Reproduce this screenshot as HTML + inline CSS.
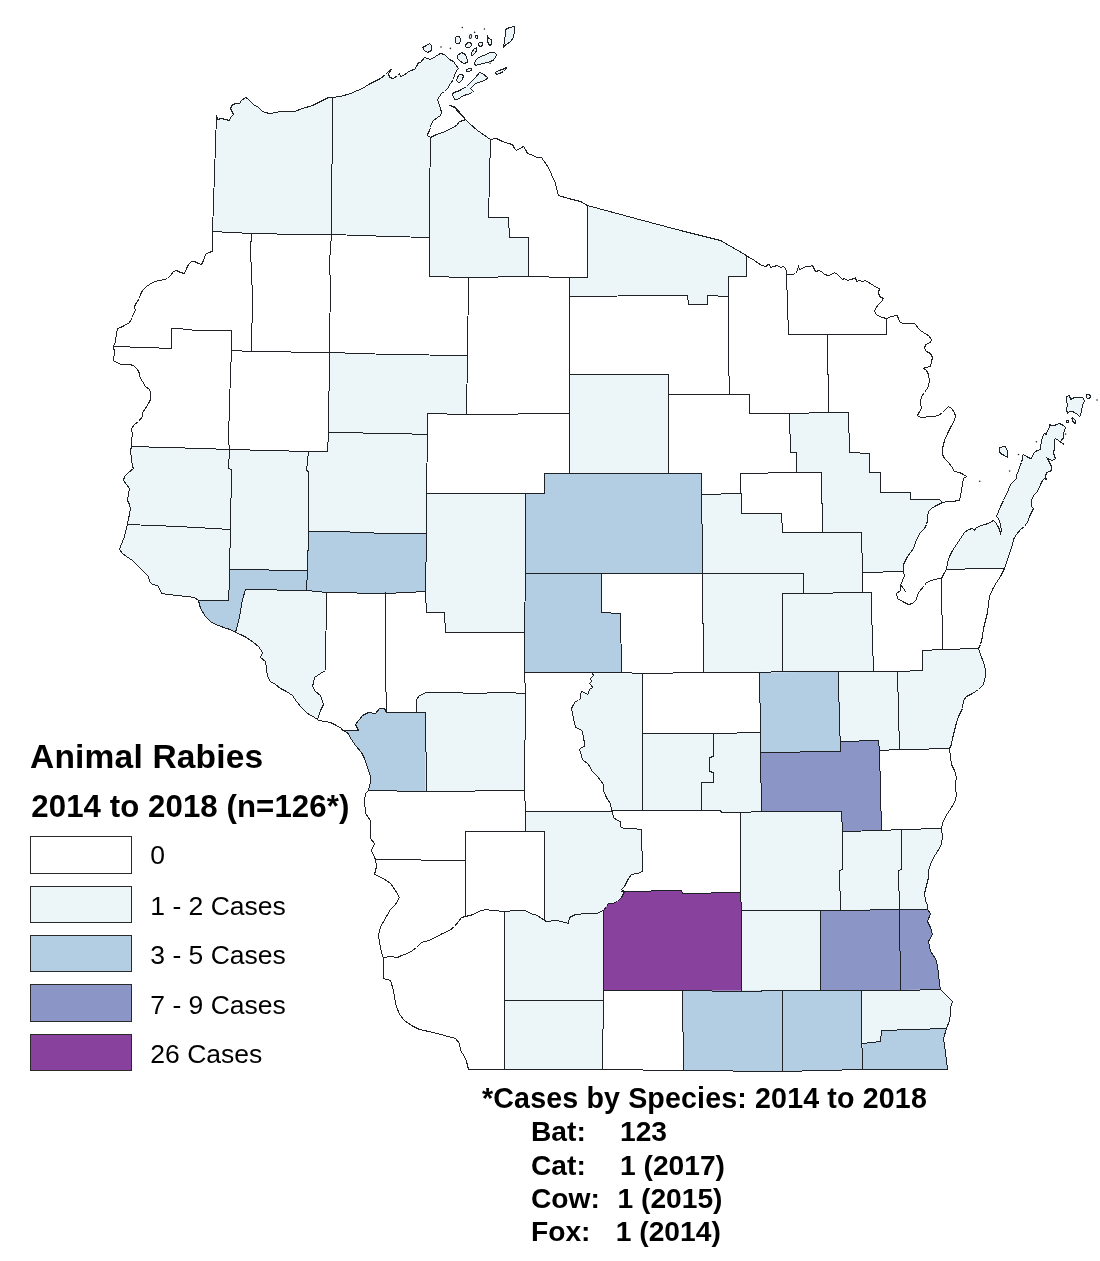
<!DOCTYPE html><html><head><meta charset="utf-8"><title>Animal Rabies 2014 to 2018</title><style>html,body{margin:0;padding:0;background:#fff;width:1100px;height:1261px;overflow:hidden}svg{position:absolute;left:0;top:0}text{font-family:"Liberation Sans",Arial,sans-serif;fill:#000}</style></head><body>
<svg width="1100" height="1261" viewBox="0 0 1100 1261">
<g stroke-linejoin="miter" stroke-linecap="square">
<g stroke="none">
<polygon fill="#ecf6f9" points="216.5,115.5 217.5,119.5 221.5,118.5 225.5,119.5 229.5,120.5 230.5,117.5 233.5,114.5 231.5,110.5 230.5,108.5 232.5,104.5 236.5,103.5 239.5,103.5 241.5,100.5 245.5,97.5 247.5,98.5 250.5,101.5 253.5,104.5 258.5,107.5 261.5,110.5 264.5,112.5 270.5,113.5 275.5,112.5 280.5,111.5 294.5,111.5 302.5,108.5 312.5,105.5 322.5,100.5 328.5,97.5 332.5,97.5 331.5,234.5 301.5,234.5 251.5,233.5 212.5,231.5"/>
<polygon fill="#ecf6f9" points="332.5,97.5 340.5,96.5 350.5,93.5 357.5,90.5 362.5,88.5 368.5,84.5 374.5,81.5 380.5,78.5 385.5,74.5 389.5,70.5 391.5,69.5 388.5,73.5 389.5,77.5 393.5,78.5 397.5,75.5 399.5,73.5 400.5,76.5 403.5,75.5 407.5,72.5 410.5,70.5 414.5,69.5 416.5,66.5 418.5,62.5 420.5,62.5 424.5,57.5 430.5,59.5 435.5,56.5 440.5,53.5 444.5,54.5 447.5,57.5 449.5,59.5 453.5,61.5 455.5,64.5 458.5,68.5 456.5,70.5 454.5,75.5 453.5,79.5 450.5,83.5 447.5,88.5 444.5,91.5 441.5,93.5 439.5,96.5 437.5,99.5 438.5,102.5 439.5,105.5 440.5,108.5 441.5,112.5 440.5,115.5 437.5,117.5 433.5,120.5 431.5,123.5 430.5,127.5 429.5,130.5 427.5,134.5 427.5,135.5 430.5,137.5 429.5,237.5 390.5,236.5 331.5,234.5"/>
<polygon fill="#ecf6f9" points="430.5,137.5 436.5,134.5 442.5,132.5 449.5,129.5 456.5,125.5 459.5,121.5 463.5,120.5 465.5,119.5 454.5,106.5 449.5,105.5 454.5,107.5 461.5,115.5 469.5,123.5 477.5,130.5 490.5,139.5 488.5,217.5 508.5,217.5 509.5,237.5 528.5,237.5 528.5,276.5 468.5,277.5 429.5,276.5 429.5,237.5"/>
<polygon fill="#ecf6f9" points="587.5,205.5 635.5,218.5 680.5,230.5 720.5,240.5 746.5,255.5 746.5,276.5 728.5,276.5 728.5,296.5 707.5,295.5 707.5,304.5 688.5,304.5 687.5,295.5 666.5,295.5 569.5,296.5 569.5,277.5 587.5,277.5"/>
<polygon fill="#ecf6f9" points="569.5,374.5 668.5,374.5 668.5,394.5 668.5,473.5 569.5,473.5"/>
<polygon fill="#ecf6f9" points="329.5,352.5 390.5,354.5 467.5,355.5 466.5,414.5 427.5,413.5 427.5,434.5 396.5,433.5 328.5,432.5"/>
<polygon fill="#ecf6f9" points="789.5,413.5 848.5,412.5 849.5,452.5 869.5,453.5 869.5,472.5 880.5,472.5 880.5,492.5 910.5,492.5 910.5,499.5 939.5,499.5 942.5,502.5 938.5,504.5 934.5,506.5 931.5,508.5 928.5,511.5 927.5,516.5 927.5,520.5 926.5,524.5 924.5,528.5 920.5,532.5 917.5,537.5 915.5,542.5 913.5,548.5 910.5,552.5 907.5,556.5 905.5,560.5 903.5,564.5 903.5,571.5 862.5,572.5 861.5,532.5 822.5,532.5 821.5,472.5 796.5,472.5 796.5,452.5 790.5,452.5"/>
<polygon fill="#ecf6f9" points="701.5,494.5 740.5,493.5 741.5,513.5 781.5,513.5 782.5,532.5 861.5,532.5 862.5,572.5 862.5,592.5 803.5,593.5 803.5,573.5 702.5,573.5"/>
<polygon fill="#ecf6f9" points="702.5,573.5 803.5,573.5 803.5,593.5 782.5,593.5 782.5,671.5 703.5,672.5"/>
<polygon fill="#ecf6f9" points="782.5,593.5 862.5,592.5 871.5,592.5 871.5,609.5 873.5,671.5 782.5,671.5"/>
<polygon fill="#ecf6f9" points="838.5,671.5 897.5,671.5 899.5,749.5 879.5,750.5 878.5,740.5 840.5,741.5 839.5,730.5"/>
<polygon fill="#ecf6f9" points="897.5,671.5 922.5,670.5 922.5,650.5 941.5,649.5 978.5,648.5 980.5,654.5 983.5,662.5 985.5,669.5 985.5,676.5 983.5,684.5 978.5,689.5 972.5,693.5 966.5,696.5 963.5,700.5 962.5,708.5 960.5,712.5 958.5,716.5 956.5,722.5 954.5,730.5 952.5,738.5 951.5,744.5 949.5,748.5 908.5,749.5 899.5,749.5"/>
<polygon fill="#ecf6f9" points="946.5,569.5 947.5,562.5 949.5,556.5 952.5,550.5 956.5,544.5 960.5,538.5 964.5,532.5 968.5,529.5 972.5,528.5 974.5,530.5 975.5,528.5 978.5,526.5 981.5,525.5 984.5,524.5 988.5,523.5 991.5,521.5 993.5,520.5 995.5,522.5 997.5,525.5 999.5,529.5 1000.5,533.5 1001.5,530.5 1000.5,524.5 998.5,518.5 996.5,516.5 998.5,511.5 1000.5,506.5 1003.5,500.5 1005.5,495.5 1007.5,492.5 1009.5,486.5 1011.5,483.5 1013.5,481.5 1016.5,478.5 1016.5,474.5 1018.5,471.5 1019.5,467.5 1020.5,464.5 1021.5,462.5 1022.5,458.5 1022.5,455.5 1023.5,454.5 1026.5,456.5 1028.5,457.5 1030.5,458.5 1032.5,457.5 1033.5,453.5 1035.5,451.5 1037.5,450.5 1040.5,449.5 1040.5,446.5 1041.5,441.5 1042.5,436.5 1044.5,433.5 1046.5,434.5 1047.5,430.5 1049.5,427.5 1049.5,424.5 1051.5,425.5 1054.5,425.5 1056.5,424.5 1059.5,423.5 1061.5,424.5 1063.5,425.5 1065.5,427.5 1064.5,430.5 1063.5,433.5 1063.5,436.5 1063.5,438.5 1061.5,439.5 1060.5,442.5 1063.5,443.5 1063.5,444.5 1061.5,442.5 1058.5,440.5 1055.5,438.5 1054.5,439.5 1054.5,443.5 1054.5,448.5 1053.5,452.5 1054.5,456.5 1055.5,458.5 1052.5,460.5 1049.5,459.5 1047.5,458.5 1049.5,462.5 1051.5,466.5 1051.5,470.5 1049.5,471.5 1046.5,472.5 1045.5,476.5 1046.5,479.5 1044.5,478.5 1042.5,480.5 1040.5,484.5 1038.5,489.5 1036.5,492.5 1033.5,495.5 1031.5,500.5 1031.5,506.5 1033.5,508.5 1031.5,512.5 1029.5,516.5 1028.5,520.5 1024.5,526.5 1020.5,529.5 1016.5,534.5 1013.5,539.5 1012.5,544.5 1010.5,550.5 1008.5,556.5 1006.5,562.5 1004.5,568.5 984.5,568.5"/>
<polygon fill="#ecf6f9" points="131.5,446.5 202.5,448.5 229.5,449.5 228.5,468.5 231.5,469.5 230.5,528.5 178.5,526.5 127.5,524.5 128.5,518.5 129.5,514.5 130.5,508.5 129.5,504.5 127.5,500.5 128.5,494.5 129.5,488.5 126.5,484.5 123.5,480.5 124.5,476.5 128.5,472.5 133.5,468.5 132.5,466.5 131.5,458.5 130.5,450.5 131.5,446.5"/>
<polygon fill="#ecf6f9" points="127.5,524.5 178.5,526.5 230.5,529.5 229.5,569.5 229.5,580.5 228.5,600.5 198.5,600.5 194.5,597.5 186.5,596.5 176.5,595.5 168.5,594.5 161.5,593.5 160.5,590.5 157.5,585.5 152.5,584.5 149.5,581.5 148.5,576.5 144.5,572.5 138.5,566.5 132.5,560.5 126.5,556.5 122.5,553.5 119.5,549.5 120.5,546.5 124.5,536.5 127.5,524.5"/>
<polygon fill="#ecf6f9" points="229.5,449.5 308.5,451.5 306.5,470.5 308.5,471.5 308.5,531.5 307.5,570.5 229.5,569.5 230.5,528.5 231.5,469.5 228.5,468.5"/>
<polygon fill="#b3cde3" points="229.5,569.5 307.5,570.5 306.5,590.5 245.5,589.5 242.5,599.5 239.5,617.5 235.5,632.5 230.5,629.5 226.5,628.5 218.5,625.5 211.5,622.5 205.5,616.5 200.5,608.5 198.5,600.5 228.5,600.5 229.5,580.5"/>
<polygon fill="#ecf6f9" points="327.5,451.5 328.5,432.5 396.5,433.5 427.5,434.5 427.5,433.5 426.5,493.5 426.5,533.5 385.5,533.5 337.5,531.5 308.5,531.5 308.5,471.5 306.5,470.5 308.5,451.5"/>
<polygon fill="#b3cde3" points="308.5,531.5 337.5,531.5 385.5,533.5 426.5,533.5 425.5,592.5 425.5,591.5 386.5,593.5 326.5,592.5 306.5,590.5 307.5,570.5"/>
<polygon fill="#ecf6f9" points="245.5,589.5 306.5,590.5 326.5,592.5 325.5,670.5 320.5,673.5 314.5,677.5 313.5,682.5 312.5,686.5 315.5,691.5 320.5,695.5 323.5,704.5 320.5,710.5 318.5,716.5 317.5,719.5 314.5,717.5 307.5,713.5 301.5,707.5 296.5,701.5 292.5,695.5 286.5,691.5 280.5,688.5 275.5,684.5 270.5,681.5 267.5,676.5 266.5,668.5 265.5,661.5 260.5,657.5 262.5,652.5 258.5,646.5 253.5,642.5 246.5,637.5 240.5,634.5 235.5,632.5 239.5,617.5 242.5,599.5"/>
<polygon fill="#ecf6f9" points="426.5,493.5 446.5,493.5 525.5,493.5 525.5,573.5 524.5,632.5 445.5,632.5 444.5,612.5 426.5,612.5 425.5,592.5 426.5,533.5"/>
<polygon fill="#b3cde3" points="544.5,473.5 701.5,473.5 702.5,573.5 525.5,573.5 525.5,493.5 544.5,493.5"/>
<polygon fill="#b3cde3" points="525.5,573.5 601.5,573.5 601.5,612.5 620.5,613.5 621.5,672.5 524.5,672.5 524.5,632.5"/>
<polygon fill="#ecf6f9" points="416.5,699.5 419.5,695.5 426.5,692.5 458.5,692.5 467.5,693.5 506.5,692.5 525.5,693.5 524.5,790.5 425.5,791.5 425.5,712.5 416.5,712.5"/>
<polygon fill="#b3cde3" points="342.5,730.5 358.5,730.5 355.5,724.5 362.5,715.5 368.5,712.5 375.5,713.5 379.5,708.5 384.5,708.5 386.5,712.5 416.5,712.5 425.5,712.5 425.5,791.5 368.5,790.5 370.5,782.5 370.5,776.5 367.5,767.5 364.5,758.5 361.5,752.5 355.5,745.5 351.5,739.5 347.5,732.5"/>
<polygon fill="#ecf6f9" points="592.5,673.5 593.5,675.5 590.5,678.5 591.5,681.5 589.5,683.5 591.5,685.5 592.5,687.5 589.5,689.5 588.5,693.5 587.5,694.5 584.5,692.5 581.5,691.5 580.5,694.5 580.5,698.5 578.5,700.5 575.5,701.5 573.5,704.5 571.5,708.5 572.5,712.5 573.5,718.5 575.5,727.5 580.5,729.5 582.5,731.5 583.5,737.5 584.5,743.5 584.5,746.5 581.5,747.5 579.5,749.5 580.5,752.5 582.5,759.5 588.5,764.5 592.5,771.5 597.5,776.5 600.5,780.5 603.5,784.5 603.5,790.5 605.5,795.5 607.5,799.5 610.5,803.5 611.5,810.5 642.5,810.5 642.5,733.5 642.5,673.5"/>
<polygon fill="#ecf6f9" points="642.5,733.5 713.5,733.5 713.5,756.5 709.5,757.5 709.5,771.5 713.5,772.5 713.5,782.5 701.5,782.5 701.5,810.5 642.5,810.5"/>
<polygon fill="#ecf6f9" points="713.5,733.5 760.5,732.5 761.5,811.5 740.5,812.5 721.5,812.5 720.5,810.5 701.5,810.5 701.5,782.5 713.5,782.5 713.5,772.5 709.5,771.5 709.5,757.5 713.5,756.5"/>
<polygon fill="#b3cde3" points="759.5,672.5 838.5,671.5 839.5,730.5 840.5,741.5 840.5,751.5 760.5,752.5"/>
<polygon fill="#8c96c6" points="760.5,752.5 840.5,751.5 840.5,741.5 878.5,740.5 879.5,750.5 881.5,830.5 842.5,831.5 841.5,811.5 761.5,811.5"/>
<polygon fill="#ecf6f9" points="525.5,811.5 612.5,811.5 613.5,817.5 617.5,820.5 620.5,821.5 620.5,826.5 623.5,828.5 631.5,828.5 641.5,829.5 642.5,871.5 637.5,873.5 631.5,874.5 628.5,878.5 624.5,886.5 621.5,889.5 624.5,891.5 621.5,897.5 617.5,901.5 612.5,903.5 608.5,903.5 606.5,906.5 603.5,910.5 596.5,913.5 586.5,913.5 575.5,914.5 569.5,917.5 568.5,923.5 565.5,922.5 556.5,920.5 546.5,921.5 544.5,920.5 544.5,831.5 525.5,831.5"/>
<polygon fill="#ecf6f9" points="504.5,911.5 516.5,910.5 525.5,910.5 530.5,913.5 537.5,915.5 544.5,920.5 546.5,921.5 556.5,920.5 565.5,922.5 568.5,923.5 569.5,917.5 575.5,914.5 586.5,913.5 596.5,913.5 603.5,910.5 603.5,990.5 603.5,1000.5 504.5,1000.5"/>
<polygon fill="#ecf6f9" points="504.5,1000.5 603.5,1000.5 602.5,1069.5 504.5,1069.5"/>
<polygon fill="#88419d" points="603.5,910.5 606.5,906.5 608.5,903.5 612.5,903.5 617.5,901.5 621.5,897.5 624.5,891.5 621.5,891.5 681.5,890.5 682.5,893.5 740.5,892.5 741.5,910.5 741.5,991.5 682.5,990.5 603.5,990.5"/>
<polygon fill="#ecf6f9" points="740.5,812.5 761.5,811.5 841.5,811.5 842.5,831.5 842.5,869.5 839.5,870.5 840.5,910.5 741.5,910.5 740.5,892.5"/>
<polygon fill="#ecf6f9" points="741.5,910.5 820.5,910.5 820.5,990.5 741.5,991.5"/>
<polygon fill="#ecf6f9" points="842.5,831.5 881.5,830.5 901.5,829.5 901.5,869.5 898.5,870.5 899.5,909.5 840.5,910.5 839.5,870.5 842.5,869.5"/>
<polygon fill="#ecf6f9" points="901.5,829.5 941.5,828.5 942.5,836.5 941.5,844.5 937.5,851.5 933.5,857.5 930.5,864.5 928.5,870.5 928.5,877.5 926.5,885.5 924.5,893.5 925.5,900.5 927.5,905.5 927.5,909.5 899.5,909.5 898.5,870.5 901.5,869.5"/>
<polygon fill="#8c96c6" points="820.5,910.5 899.5,909.5 900.5,990.5 820.5,990.5"/>
<polygon fill="#8c96c6" points="927.5,909.5 930.5,913.5 927.5,921.5 930.5,927.5 932.5,934.5 928.5,941.5 930.5,951.5 935.5,958.5 937.5,965.5 938.5,974.5 939.5,983.5 940.5,989.5 900.5,990.5 899.5,909.5"/>
<polygon fill="#ecf6f9" points="861.5,990.5 940.5,989.5 945.5,994.5 952.5,1001.5 950.5,1007.5 950.5,1014.5 949.5,1020.5 946.5,1028.5 881.5,1030.5 880.5,1041.5 862.5,1043.5 861.5,1025.5"/>
<polygon fill="#b3cde3" points="862.5,1043.5 880.5,1041.5 881.5,1030.5 946.5,1028.5 943.5,1038.5 945.5,1052.5 947.5,1069.5 862.5,1069.5"/>
<polygon fill="#b3cde3" points="782.5,990.5 861.5,990.5 861.5,1025.5 862.5,1069.5 782.5,1071.5"/>
<polygon fill="#b3cde3" points="682.5,990.5 782.5,990.5 782.5,1071.5 683.5,1070.5"/>
</g>
<g fill="#ecf6f9" stroke="#1e2226" stroke-width="1.0" shape-rendering="crispEdges">
<polygon points="452.5,94.5 454.5,99.5 457.5,99.5 463.5,95.5 467.5,94.5 472.5,92.5 473.5,91.5 470.5,88.5 475.5,83.5 481.5,81.5 486.5,79.5 487.5,77.5 482.5,73.5 479.5,72.5 475.5,77.5 471.5,81.5 466.5,86.5 461.5,89.5 457.5,91.5 453.5,92.5"/>
<polygon points="474.5,63.5 475.5,65.5 478.5,64.5 483.5,63.5 490.5,61.5 494.5,59.5 496.5,54.5 494.5,52.5 490.5,52.5 483.5,55.5 478.5,57.5 475.5,60.5"/>
<polygon points="457.5,55.5 461.5,52.5 465.5,54.5 467.5,60.5 467.5,62.5 463.5,63.5 459.5,60.5 457.5,58.5"/>
<polygon points="505.5,29.5 509.5,27.5 514.5,26.5 514.5,30.5 513.5,37.5 510.5,41.5 506.5,44.5 504.5,45.5 503.5,47.5 504.5,40.5 505.5,34.5"/>
<polygon points="495.5,72.5 498.5,70.5 502.5,69.5 506.5,67.5 506.5,68.5 503.5,71.5 499.5,73.5 496.5,74.5"/>
<polygon points="422.5,47.5 426.5,45.5 429.5,43.5 431.5,45.5 431.5,50.5 427.5,52.5 424.5,50.5"/>
<polygon points="487.5,35.5 488.5,38.5 491.5,39.5 491.5,43.5 490.5,45.5 488.5,44.5 487.5,40.5"/>
<polygon points="1066.5,396.5 1069.5,395.5 1070.5,399.5 1074.5,397.5 1078.5,397.5 1082.5,397.5 1084.5,400.5 1082.5,405.5 1081.5,410.5 1080.5,415.5 1079.5,416.5 1077.5,414.5 1074.5,412.5 1072.5,411.5 1069.5,411.5 1067.5,413.5 1066.5,409.5 1067.5,404.5 1066.5,400.5"/>
<polygon points="999.5,447.5 1005.5,446.5 1007.5,451.5 1007.5,457.5 1004.5,455.5 1000.5,453.5 999.5,451.5"/>
<ellipse cx="460" cy="78.2" rx="2.6" ry="4.4" transform="rotate(25 460 78.2)"/>
<ellipse cx="469" cy="70" rx="3" ry="1.5" transform="rotate(-25 469 70)"/>
<ellipse cx="474.1" cy="51.6" rx="1.6" ry="4.3" transform="rotate(35 474.1 51.6)"/>
<ellipse cx="468.5" cy="45.1" rx="3" ry="2.3" transform="rotate(-30 468.5 45.1)"/>
<ellipse cx="480.6" cy="44.2" rx="2" ry="2" transform="rotate(0 480.6 44.2)"/>
<ellipse cx="457.8" cy="40.1" rx="2.5" ry="3.8" transform="rotate(0 457.8 40.1)"/>
<ellipse cx="470.5" cy="36.5" rx="1.1" ry="2" transform="rotate(15 470.5 36.5)"/>
<ellipse cx="476.7" cy="37" rx="1.4" ry="1.4" transform="rotate(0 476.7 37)"/>
<ellipse cx="1088.2" cy="396.3" rx="2" ry="2.2" transform="rotate(0 1088.2 396.3)"/>
<ellipse cx="1067.5" cy="421.4" rx="1" ry="1" transform="rotate(0 1067.5 421.4)"/>
<ellipse cx="1073.8" cy="420.5" rx="1.2" ry="3" transform="rotate(-30 1073.8 420.5)"/>
</g>
<g fill="#1e2226">
<circle cx="441" cy="47" r="0.8"/>
<circle cx="450.4" cy="48.4" r="0.8"/>
<circle cx="462.3" cy="27.5" r="0.8"/>
<circle cx="484.4" cy="29" r="0.8"/>
<circle cx="474.6" cy="32.4" r="0.8"/>
<circle cx="490.1" cy="63.3" r="0.8"/>
<circle cx="1097" cy="400" r="0.8"/>
<circle cx="1009.6" cy="471" r="0.8"/>
<circle cx="1036.4" cy="441.7" r="0.8"/>
<circle cx="1018.5" cy="454.5" r="0.8"/>
<circle cx="979.7" cy="481.2" r="0.8"/>
<circle cx="1065.6" cy="434.1" r="0.8"/>
</g>
<g fill="none" stroke="#1e2226" stroke-width="1.0" shape-rendering="crispEdges">
<polygon points="216.5,115.5 217.5,119.5 221.5,118.5 225.5,119.5 229.5,120.5 230.5,117.5 233.5,114.5 231.5,110.5 230.5,108.5 232.5,104.5 236.5,103.5 239.5,103.5 241.5,100.5 245.5,97.5 247.5,98.5 250.5,101.5 253.5,104.5 258.5,107.5 261.5,110.5 264.5,112.5 270.5,113.5 275.5,112.5 280.5,111.5 294.5,111.5 302.5,108.5 312.5,105.5 322.5,100.5 328.5,97.5 332.5,97.5 340.5,96.5 350.5,93.5 357.5,90.5 362.5,88.5 368.5,84.5 374.5,81.5 380.5,78.5 385.5,74.5 389.5,70.5 391.5,69.5 388.5,73.5 389.5,77.5 393.5,78.5 397.5,75.5 399.5,73.5 400.5,76.5 403.5,75.5 407.5,72.5 410.5,70.5 414.5,69.5 416.5,66.5 418.5,62.5 420.5,62.5 424.5,57.5 430.5,59.5 435.5,56.5 440.5,53.5 444.5,54.5 447.5,57.5 449.5,59.5 453.5,61.5 455.5,64.5 458.5,68.5 456.5,70.5 454.5,75.5 453.5,79.5 450.5,83.5 447.5,88.5 444.5,91.5 441.5,93.5 439.5,96.5 437.5,99.5 438.5,102.5 439.5,105.5 440.5,108.5 441.5,112.5 440.5,115.5 437.5,117.5 433.5,120.5 431.5,123.5 430.5,127.5 429.5,130.5 427.5,134.5 427.5,135.5 430.5,137.5 436.5,134.5 442.5,132.5 449.5,129.5 456.5,125.5 459.5,121.5 463.5,120.5 465.5,119.5 461.5,114.5 454.5,106.5 449.5,105.5 454.5,107.5 461.5,115.5 469.5,123.5 477.5,130.5 490.5,139.5 496.5,138.5 502.5,141.5 508.5,143.5 512.5,144.5 514.5,148.5 516.5,150.5 523.5,146.5 525.5,149.5 527.5,153.5 533.5,155.5 536.5,157.5 541.5,157.5 543.5,160.5 548.5,167.5 551.5,174.5 555.5,183.5 557.5,192.5 558.5,195.5 568.5,198.5 580.5,201.5 587.5,205.5 635.5,218.5 680.5,230.5 720.5,240.5 746.5,255.5 747.5,256.5 754.5,260.5 761.5,265.5 766.5,266.5 767.5,264.5 769.5,264.5 770.5,267.5 773.5,266.5 777.5,265.5 780.5,267.5 783.5,266.5 785.5,268.5 786.5,271.5 786.5,274.5 788.5,274.5 792.5,274.5 795.5,273.5 797.5,270.5 798.5,266.5 799.5,269.5 802.5,268.5 805.5,266.5 809.5,266.5 812.5,265.5 813.5,267.5 815.5,271.5 819.5,270.5 822.5,272.5 824.5,274.5 828.5,275.5 831.5,274.5 834.5,272.5 837.5,274.5 840.5,277.5 842.5,279.5 844.5,278.5 847.5,280.5 850.5,279.5 854.5,278.5 855.5,277.5 856.5,281.5 859.5,280.5 862.5,281.5 865.5,280.5 868.5,282.5 870.5,283.5 873.5,285.5 876.5,287.5 879.5,288.5 878.5,292.5 879.5,296.5 881.5,297.5 883.5,298.5 881.5,301.5 878.5,304.5 875.5,308.5 874.5,311.5 876.5,314.5 879.5,316.5 882.5,317.5 886.5,318.5 891.5,316.5 897.5,315.5 898.5,319.5 900.5,322.5 903.5,323.5 909.5,323.5 914.5,323.5 916.5,325.5 917.5,327.5 920.5,330.5 923.5,332.5 926.5,334.5 928.5,335.5 931.5,339.5 930.5,342.5 925.5,344.5 924.5,348.5 926.5,351.5 930.5,353.5 932.5,357.5 931.5,361.5 930.5,366.5 925.5,367.5 923.5,368.5 926.5,370.5 928.5,374.5 929.5,380.5 928.5,386.5 924.5,392.5 921.5,396.5 920.5,402.5 921.5,408.5 918.5,413.5 917.5,415.5 920.5,417.5 923.5,417.5 928.5,416.5 933.5,416.5 938.5,415.5 942.5,412.5 945.5,409.5 948.5,406.5 951.5,408.5 954.5,412.5 955.5,416.5 953.5,422.5 950.5,427.5 947.5,433.5 944.5,440.5 942.5,448.5 942.5,454.5 944.5,458.5 948.5,462.5 951.5,466.5 954.5,471.5 959.5,472.5 963.5,474.5 966.5,476.5 963.5,478.5 962.5,484.5 961.5,490.5 960.5,496.5 959.5,500.5 957.5,500.5 953.5,501.5 948.5,501.5 942.5,502.5 938.5,504.5 934.5,506.5 931.5,508.5 928.5,511.5 927.5,516.5 927.5,520.5 926.5,524.5 924.5,528.5 920.5,532.5 917.5,537.5 915.5,542.5 913.5,548.5 910.5,552.5 907.5,556.5 905.5,560.5 903.5,564.5 903.5,571.5 904.5,575.5 902.5,580.5 900.5,585.5 900.5,590.5 896.5,593.5 897.5,598.5 902.5,601.5 908.5,604.5 912.5,603.5 916.5,599.5 917.5,594.5 919.5,591.5 924.5,585.5 926.5,582.5 931.5,580.5 938.5,578.5 941.5,578.5 944.5,572.5 946.5,569.5 947.5,562.5 949.5,556.5 952.5,550.5 956.5,544.5 960.5,538.5 964.5,532.5 968.5,529.5 972.5,528.5 974.5,530.5 975.5,528.5 978.5,526.5 981.5,525.5 984.5,524.5 988.5,523.5 991.5,521.5 993.5,520.5 995.5,522.5 997.5,525.5 999.5,529.5 1000.5,533.5 1001.5,530.5 1000.5,524.5 998.5,518.5 996.5,516.5 998.5,511.5 1000.5,506.5 1003.5,500.5 1005.5,495.5 1007.5,492.5 1009.5,486.5 1011.5,483.5 1013.5,481.5 1016.5,478.5 1016.5,474.5 1018.5,471.5 1019.5,467.5 1020.5,464.5 1021.5,462.5 1022.5,458.5 1022.5,455.5 1023.5,454.5 1026.5,456.5 1028.5,457.5 1030.5,458.5 1032.5,457.5 1033.5,453.5 1035.5,451.5 1037.5,450.5 1040.5,449.5 1040.5,446.5 1041.5,441.5 1042.5,436.5 1044.5,433.5 1046.5,434.5 1047.5,430.5 1049.5,427.5 1049.5,424.5 1051.5,425.5 1054.5,425.5 1056.5,424.5 1059.5,423.5 1061.5,424.5 1063.5,425.5 1065.5,427.5 1064.5,430.5 1063.5,433.5 1063.5,436.5 1063.5,438.5 1061.5,439.5 1060.5,442.5 1063.5,443.5 1063.5,444.5 1061.5,442.5 1058.5,440.5 1055.5,438.5 1054.5,439.5 1054.5,443.5 1054.5,448.5 1053.5,452.5 1054.5,456.5 1055.5,458.5 1052.5,460.5 1049.5,459.5 1047.5,458.5 1049.5,462.5 1051.5,466.5 1051.5,470.5 1049.5,471.5 1046.5,472.5 1045.5,476.5 1046.5,479.5 1044.5,478.5 1042.5,480.5 1040.5,484.5 1038.5,489.5 1036.5,492.5 1033.5,495.5 1031.5,500.5 1031.5,506.5 1033.5,508.5 1031.5,512.5 1029.5,516.5 1028.5,520.5 1024.5,526.5 1020.5,529.5 1016.5,534.5 1013.5,539.5 1012.5,544.5 1010.5,550.5 1008.5,556.5 1006.5,562.5 1004.5,568.5 1000.5,576.5 996.5,582.5 992.5,589.5 989.5,596.5 988.5,604.5 987.5,612.5 985.5,620.5 983.5,628.5 982.5,636.5 980.5,644.5 978.5,648.5 980.5,654.5 983.5,662.5 985.5,669.5 985.5,676.5 983.5,684.5 978.5,689.5 972.5,693.5 966.5,696.5 963.5,700.5 962.5,708.5 960.5,712.5 958.5,716.5 956.5,722.5 954.5,730.5 952.5,738.5 951.5,744.5 949.5,748.5 950.5,756.5 951.5,764.5 954.5,770.5 956.5,777.5 955.5,782.5 955.5,788.5 956.5,795.5 954.5,802.5 949.5,810.5 945.5,816.5 942.5,823.5 941.5,828.5 942.5,836.5 941.5,844.5 937.5,851.5 933.5,857.5 930.5,864.5 928.5,870.5 928.5,877.5 926.5,885.5 924.5,893.5 925.5,900.5 927.5,905.5 927.5,909.5 930.5,913.5 927.5,921.5 930.5,927.5 932.5,934.5 928.5,941.5 930.5,951.5 935.5,958.5 937.5,965.5 938.5,974.5 939.5,983.5 940.5,989.5 945.5,994.5 952.5,1001.5 950.5,1007.5 950.5,1014.5 949.5,1020.5 946.5,1028.5 943.5,1038.5 945.5,1052.5 947.5,1069.5 862.5,1069.5 782.5,1071.5 683.5,1070.5 602.5,1069.5 504.5,1069.5 468.5,1069.5 466.5,1061.5 464.5,1056.5 460.5,1050.5 459.5,1043.5 455.5,1038.5 444.5,1035.5 433.5,1032.5 419.5,1029.5 411.5,1025.5 404.5,1020.5 399.5,1014.5 395.5,1003.5 393.5,990.5 390.5,980.5 383.5,978.5 383.5,957.5 382.5,956.5 380.5,947.5 378.5,935.5 380.5,926.5 382.5,923.5 386.5,916.5 390.5,909.5 395.5,904.5 399.5,897.5 395.5,890.5 390.5,883.5 383.5,878.5 374.5,874.5 376.5,866.5 375.5,859.5 371.5,850.5 374.5,843.5 370.5,838.5 370.5,829.5 370.5,820.5 365.5,813.5 364.5,800.5 365.5,793.5 368.5,790.5 370.5,782.5 370.5,776.5 367.5,767.5 364.5,758.5 361.5,752.5 355.5,745.5 351.5,739.5 347.5,732.5 342.5,730.5 341.5,728.5 336.5,725.5 330.5,722.5 324.5,721.5 318.5,720.5 317.5,719.5 314.5,717.5 307.5,713.5 301.5,707.5 296.5,701.5 292.5,695.5 286.5,691.5 280.5,688.5 275.5,684.5 270.5,681.5 267.5,676.5 266.5,668.5 265.5,661.5 260.5,657.5 262.5,652.5 258.5,646.5 253.5,642.5 246.5,637.5 240.5,634.5 235.5,632.5 230.5,629.5 226.5,628.5 218.5,625.5 211.5,622.5 205.5,616.5 200.5,608.5 198.5,600.5 194.5,597.5 186.5,596.5 176.5,595.5 168.5,594.5 161.5,593.5 160.5,590.5 157.5,585.5 152.5,584.5 149.5,581.5 148.5,576.5 144.5,572.5 138.5,566.5 132.5,560.5 126.5,556.5 122.5,553.5 119.5,549.5 120.5,546.5 124.5,536.5 127.5,524.5 128.5,518.5 129.5,514.5 130.5,508.5 129.5,504.5 127.5,500.5 128.5,494.5 129.5,488.5 126.5,484.5 123.5,480.5 124.5,476.5 128.5,472.5 133.5,468.5 132.5,466.5 131.5,458.5 130.5,450.5 131.5,446.5 131.5,440.5 132.5,434.5 131.5,428.5 134.5,424.5 138.5,421.5 142.5,416.5 142.5,412.5 145.5,408.5 148.5,403.5 150.5,399.5 150.5,392.5 149.5,389.5 145.5,386.5 142.5,381.5 139.5,376.5 139.5,373.5 137.5,369.5 133.5,365.5 129.5,364.5 121.5,364.5 116.5,362.5 113.5,360.5 114.5,352.5 113.5,346.5 115.5,341.5 116.5,333.5 117.5,328.5 120.5,327.5 124.5,325.5 129.5,322.5 132.5,317.5 133.5,313.5 135.5,310.5 134.5,306.5 136.5,302.5 139.5,298.5 140.5,294.5 142.5,290.5 146.5,286.5 152.5,282.5 158.5,280.5 160.5,280.5 167.5,278.5 170.5,275.5 173.5,271.5 176.5,270.5 180.5,272.5 184.5,273.5 186.5,268.5 188.5,264.5 191.5,261.5 194.5,261.5 198.5,263.5 201.5,264.5 203.5,260.5 205.5,254.5 208.5,252.5 212.5,251.5 212.5,231.5"/>
<polyline points="332.5,97.5 331.5,234.5 329.5,262.5 329.5,274.5 330.5,275.5 329.5,352.5 328.5,432.5 327.5,451.5"/>
<polyline points="212.5,231.5 251.5,233.5 301.5,234.5 331.5,234.5 390.5,236.5 429.5,237.5"/>
<polyline points="251.5,233.5 250.5,250.5 251.5,273.5 252.5,296.5 251.5,351.5"/>
<polyline points="113.5,346.5 145.5,347.5 171.5,348.5 171.5,328.5 178.5,328.5 196.5,330.5 231.5,330.5 231.5,350.5"/>
<polyline points="231.5,350.5 251.5,351.5 329.5,352.5"/>
<polyline points="231.5,350.5 230.5,374.5 229.5,403.5 228.5,440.5 229.5,449.5"/>
<polyline points="131.5,446.5 202.5,448.5 229.5,449.5 308.5,451.5 327.5,451.5"/>
<polyline points="229.5,449.5 228.5,468.5 231.5,469.5 230.5,528.5 229.5,569.5"/>
<polyline points="127.5,524.5 178.5,526.5 230.5,529.5"/>
<polyline points="229.5,569.5 229.5,580.5 228.5,600.5 198.5,600.5"/>
<polyline points="229.5,569.5 307.5,570.5"/>
<polyline points="308.5,451.5 306.5,470.5 308.5,471.5 308.5,531.5 307.5,570.5 306.5,590.5"/>
<polyline points="306.5,590.5 245.5,589.5 242.5,599.5 239.5,617.5 235.5,632.5"/>
<polyline points="306.5,590.5 326.5,592.5 386.5,593.5 425.5,591.5"/>
<polyline points="308.5,531.5 337.5,531.5 385.5,533.5 426.5,533.5"/>
<polyline points="328.5,432.5 396.5,433.5 427.5,434.5"/>
<polyline points="427.5,413.5 427.5,433.5 426.5,493.5 426.5,533.5 425.5,592.5 426.5,612.5"/>
<polyline points="329.5,352.5 390.5,354.5 467.5,355.5"/>
<polyline points="430.5,137.5 429.5,200.5 429.5,237.5"/>
<polyline points="429.5,237.5 429.5,276.5 468.5,277.5 528.5,276.5 569.5,277.5 587.5,277.5"/>
<polyline points="468.5,277.5 467.5,355.5 466.5,414.5"/>
<polyline points="427.5,413.5 466.5,414.5 569.5,413.5"/>
<polyline points="490.5,139.5 488.5,217.5 508.5,217.5 509.5,237.5 528.5,237.5 528.5,276.5"/>
<polyline points="587.5,205.5 587.5,277.5"/>
<polyline points="569.5,277.5 569.5,296.5 569.5,374.5 569.5,414.5 569.5,473.5"/>
<polyline points="569.5,296.5 666.5,295.5 687.5,295.5 688.5,304.5 707.5,304.5 707.5,295.5 728.5,296.5"/>
<polyline points="746.5,255.5 746.5,276.5 728.5,276.5 728.5,296.5 728.5,355.5 729.5,394.5"/>
<polyline points="569.5,374.5 668.5,374.5 668.5,394.5 729.5,394.5 749.5,394.5 749.5,413.5 789.5,413.5 828.5,412.5 848.5,412.5"/>
<polyline points="668.5,394.5 668.5,473.5"/>
<polyline points="786.5,274.5 788.5,334.5 886.5,334.5 886.5,318.5"/>
<polyline points="827.5,334.5 828.5,412.5"/>
<polyline points="789.5,413.5 790.5,452.5 796.5,452.5 796.5,472.5"/>
<polyline points="848.5,412.5 849.5,452.5 869.5,453.5 869.5,472.5 880.5,472.5 880.5,492.5 910.5,492.5 910.5,499.5 939.5,499.5 942.5,502.5"/>
<polyline points="668.5,473.5 701.5,473.5 701.5,494.5 740.5,493.5 740.5,473.5 796.5,472.5 821.5,472.5"/>
<polyline points="741.5,493.5 741.5,513.5 781.5,513.5 782.5,532.5 822.5,532.5 821.5,472.5"/>
<polyline points="822.5,532.5 861.5,532.5 862.5,572.5 903.5,571.5"/>
<polyline points="701.5,473.5 702.5,573.5"/>
<polyline points="803.5,573.5 803.5,593.5 862.5,592.5"/>
<polyline points="862.5,572.5 862.5,592.5 871.5,592.5 871.5,609.5 873.5,671.5"/>
<polyline points="782.5,593.5 803.5,593.5"/>
<polyline points="782.5,593.5 782.5,671.5"/>
<polyline points="524.5,672.5 592.5,672.5 621.5,672.5 642.5,673.5 703.5,672.5 759.5,672.5 782.5,671.5 838.5,671.5 873.5,671.5 897.5,671.5 922.5,670.5 922.5,650.5 941.5,649.5 978.5,648.5"/>
<polyline points="941.5,578.5 942.5,649.5"/>
<polyline points="946.5,569.5 984.5,568.5 1004.5,568.5"/>
<polyline points="601.5,573.5 601.5,612.5 620.5,613.5 621.5,672.5"/>
<polyline points="525.5,573.5 601.5,573.5 702.5,573.5 803.5,573.5"/>
<polyline points="702.5,573.5 703.5,672.5"/>
<polyline points="544.5,473.5 544.5,493.5 525.5,493.5 525.5,573.5"/>
<polyline points="426.5,493.5 446.5,493.5 525.5,493.5 544.5,493.5"/>
<polyline points="544.5,473.5 569.5,473.5 668.5,473.5"/>
<polyline points="525.5,573.5 524.5,632.5 524.5,672.5 525.5,693.5 524.5,790.5 525.5,811.5 525.5,831.5"/>
<polyline points="426.5,612.5 444.5,612.5 445.5,632.5 524.5,632.5"/>
<polyline points="385.5,592.5 385.5,647.5 385.5,671.5 386.5,711.5"/>
<polyline points="326.5,592.5 325.5,670.5 320.5,673.5 314.5,677.5 313.5,682.5 312.5,686.5 315.5,691.5 320.5,695.5 323.5,704.5 320.5,710.5 318.5,716.5 317.5,719.5"/>
<polyline points="342.5,730.5 358.5,730.5 355.5,724.5 362.5,715.5 368.5,712.5 375.5,713.5 379.5,708.5 384.5,708.5 386.5,712.5 416.5,712.5 425.5,712.5"/>
<polyline points="416.5,712.5 416.5,699.5 419.5,695.5 426.5,692.5 458.5,692.5 467.5,693.5 506.5,692.5 525.5,693.5"/>
<polyline points="425.5,712.5 426.5,790.5"/>
<polyline points="368.5,790.5 425.5,791.5 524.5,790.5"/>
<polyline points="525.5,811.5 612.5,811.5"/>
<polyline points="375.5,859.5 465.5,860.5"/>
<polyline points="465.5,831.5 525.5,831.5 544.5,831.5"/>
<polyline points="465.5,831.5 465.5,916.5"/>
<polyline points="544.5,831.5 544.5,920.5"/>
<polyline points="383.5,957.5 390.5,956.5 397.5,957.5 401.5,955.5 407.5,953.5 412.5,950.5 416.5,947.5 421.5,942.5 428.5,940.5 435.5,937.5 442.5,933.5 449.5,930.5 454.5,926.5 458.5,921.5 461.5,917.5 465.5,916.5 473.5,914.5 478.5,911.5 485.5,909.5 492.5,910.5 504.5,911.5 516.5,910.5 525.5,910.5 530.5,913.5 537.5,915.5 544.5,920.5 546.5,921.5 556.5,920.5 565.5,922.5 568.5,923.5 569.5,917.5 575.5,914.5 586.5,913.5 596.5,913.5 603.5,910.5 606.5,906.5 608.5,903.5 612.5,903.5 617.5,901.5 621.5,897.5 624.5,891.5 621.5,889.5 624.5,886.5 628.5,878.5 631.5,874.5 637.5,873.5 642.5,871.5"/>
<polyline points="592.5,673.5 593.5,675.5 590.5,678.5 591.5,681.5 589.5,683.5 591.5,685.5 592.5,687.5 589.5,689.5 588.5,693.5 587.5,694.5 584.5,692.5 581.5,691.5 580.5,694.5 580.5,698.5 578.5,700.5 575.5,701.5 573.5,704.5 571.5,708.5 572.5,712.5 573.5,718.5 575.5,727.5 580.5,729.5 582.5,731.5 583.5,737.5 584.5,743.5 584.5,746.5 581.5,747.5 579.5,749.5 580.5,752.5 582.5,759.5 588.5,764.5 592.5,771.5 597.5,776.5 600.5,780.5 603.5,784.5 603.5,790.5 605.5,795.5 607.5,799.5 610.5,803.5 611.5,810.5 612.5,811.5 613.5,817.5 617.5,820.5 620.5,821.5 620.5,826.5 623.5,828.5 631.5,828.5 641.5,829.5 642.5,871.5"/>
<polyline points="504.5,911.5 504.5,1069.5"/>
<polyline points="504.5,1000.5 603.5,1000.5"/>
<polyline points="603.5,910.5 603.5,990.5 602.5,1069.5"/>
<polyline points="603.5,990.5 682.5,990.5 741.5,991.5 782.5,990.5 820.5,990.5 861.5,990.5 900.5,990.5 940.5,989.5"/>
<polyline points="682.5,990.5 683.5,1070.5"/>
<polyline points="782.5,990.5 782.5,1071.5"/>
<polyline points="861.5,990.5 861.5,1025.5 862.5,1069.5"/>
<polyline points="862.5,1043.5 880.5,1041.5 881.5,1030.5 946.5,1028.5"/>
<polyline points="621.5,891.5 681.5,890.5 682.5,893.5 740.5,892.5"/>
<polyline points="740.5,812.5 740.5,892.5 741.5,910.5 741.5,991.5"/>
<polyline points="612.5,810.5 642.5,810.5 701.5,810.5 720.5,810.5 721.5,812.5 740.5,812.5 761.5,811.5 841.5,811.5"/>
<polyline points="642.5,673.5 642.5,733.5 642.5,810.5"/>
<polyline points="642.5,733.5 713.5,733.5 760.5,732.5"/>
<polyline points="713.5,733.5 713.5,756.5 709.5,757.5 709.5,771.5 713.5,772.5 713.5,782.5 701.5,782.5 701.5,810.5"/>
<polyline points="759.5,672.5 760.5,732.5 760.5,752.5 761.5,811.5"/>
<polyline points="760.5,752.5 840.5,751.5 840.5,741.5"/>
<polyline points="838.5,671.5 839.5,730.5 840.5,741.5"/>
<polyline points="840.5,741.5 878.5,740.5 879.5,750.5"/>
<polyline points="897.5,671.5 899.5,749.5"/>
<polyline points="879.5,750.5 899.5,749.5 908.5,749.5 949.5,748.5"/>
<polyline points="879.5,750.5 881.5,830.5"/>
<polyline points="841.5,811.5 842.5,831.5 881.5,830.5 900.5,829.5 941.5,828.5"/>
<polyline points="842.5,831.5 842.5,869.5 839.5,870.5 840.5,910.5"/>
<polyline points="901.5,829.5 901.5,869.5 898.5,870.5 899.5,909.5"/>
<polyline points="741.5,910.5 774.5,910.5 820.5,910.5 840.5,910.5 899.5,909.5 927.5,909.5"/>
<polyline points="820.5,910.5 820.5,990.5"/>
<polyline points="899.5,909.5 900.5,990.5"/>
<polyline points="900.5,584.5 903.5,588.5 905.5,591.5"/>
</g></g>
<rect x="30.5" y="836.5" width="101" height="37" fill="#ffffff" stroke="#2a2a2a" stroke-width="1" shape-rendering="crispEdges"/>
<rect x="30.5" y="886.5" width="101" height="36" fill="#ecf6f9" stroke="#2a2a2a" stroke-width="1" shape-rendering="crispEdges"/>
<rect x="30.5" y="935.5" width="101" height="36" fill="#b3cde3" stroke="#2a2a2a" stroke-width="1" shape-rendering="crispEdges"/>
<rect x="30.5" y="984.5" width="101" height="37" fill="#8c96c6" stroke="#2a2a2a" stroke-width="1" shape-rendering="crispEdges"/>
<rect x="30.5" y="1034.5" width="101" height="36" fill="#88419d" stroke="#2a2a2a" stroke-width="1" shape-rendering="crispEdges"/>
<text x="150.3" y="864.4" font-size="26.5">0</text>
<text x="150.3" y="914.8" font-size="26.5">1 - 2 Cases</text>
<text x="150.3" y="964.2" font-size="26.5">3 - 5 Cases</text>
<text x="150.3" y="1013.6" font-size="26.5">7 - 9 Cases</text>
<text x="150.3" y="1063.0" font-size="26.5">26 Cases</text>
<text x="30" y="768.3" font-size="33.5" font-weight="bold" letter-spacing="0.2">Animal Rabies</text>
<text x="31.3" y="817.2" font-size="31.2" font-weight="bold" letter-spacing="0.08">2014 to 2018 (n=126*)</text>
<text x="482" y="1108.2" font-size="28.6" font-weight="bold" letter-spacing="0.15">*Cases by Species: 2014 to 2018</text>
<text x="531" y="1141.2" font-size="28.2" font-weight="bold">Bat:</text>
<text x="620.0" y="1141.2" font-size="28.2" font-weight="bold">123</text>
<text x="531" y="1175.2" font-size="28.2" font-weight="bold">Cat:</text>
<text x="620.0" y="1175.2" font-size="28.2" font-weight="bold">1 (2017)</text>
<text x="531" y="1207.8" font-size="28.2" font-weight="bold">Cow:</text>
<text x="617.5" y="1207.8" font-size="28.2" font-weight="bold">1 (2015)</text>
<text x="531" y="1240.7" font-size="28.2" font-weight="bold">Fox:</text>
<text x="615.8" y="1240.7" font-size="28.2" font-weight="bold">1 (2014)</text>
</svg></body></html>
